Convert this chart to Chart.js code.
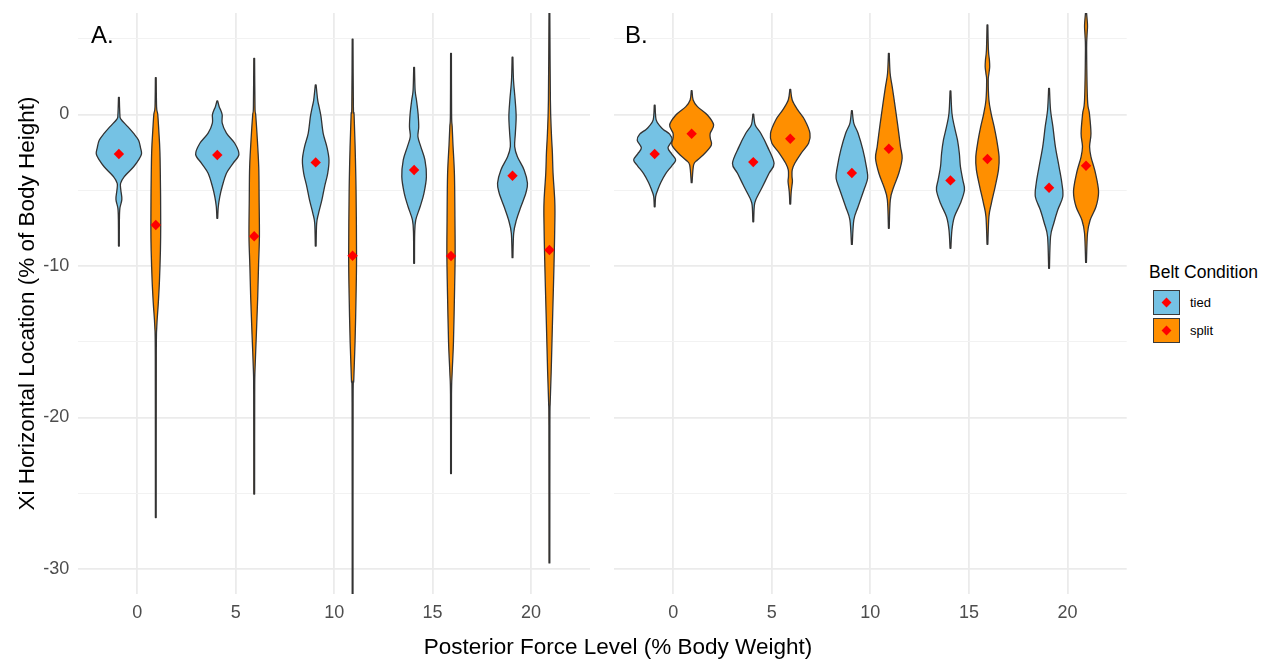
<!DOCTYPE html>
<html>
<head>
<meta charset="utf-8">
<title>Xi Horizontal Location by Posterior Force Level</title>
<script src="https://cdn.jsdelivr.net/npm/chart.js@4.4.1/dist/chart.umd.min.js"></script>
<style>
  html, body { margin: 0; padding: 0; background: #fff; }
  body { width: 1265px; height: 659px; position: relative; overflow: hidden;
         font-family: "Liberation Sans", Arial, Helvetica, sans-serif; }
  .wrap { position: absolute; top: 0; }
  #wrapA { left: 0; width: 600px; height: 659px; }
  #wrapB { left: 600px; width: 540px; height: 659px; }
  .tag { position: absolute; font-size: 24px; line-height: 24px; color: #000; white-space: nowrap; }
  #xTitle { position: absolute; left: 418px; width: 400px; top: 636px; text-align: center;
            font-size: 22.5px; line-height: 22.5px; color: #000; white-space: nowrap; }
  #legend { position: absolute; left: 1149px; top: 264px; }
  #legend .title { position: absolute; left: 0; top: 0; font-size: 17.5px; line-height: 17.5px; color: #000; white-space: nowrap; }
  #legend .key { position: absolute; left: 4px; width: 25px; height: 23px; border: 1.5px solid #3a3a3a; }
  #legend .dia { position: absolute; width: 7px; height: 7px; background: #ff0000; transform: rotate(45deg); }
  #legend .lab { position: absolute; left: 41px; font-size: 13px; line-height: 13px; color: #000; white-space: nowrap; }
</style>
</head>
<body>
<div class="wrap" id="wrapA"><canvas id="chartA" width="600" height="659"></canvas></div>
<div class="wrap" id="wrapB"><canvas id="chartB" width="540" height="659"></canvas></div>
<div class="tag" style="left:91px; top:23px;">A.</div>
<div class="tag" style="left:625px; top:23px;">B.</div>
<div id="xTitle">Posterior Force Level (% Body Weight)</div>
<div id="legend">
  <div class="title">Belt Condition</div>
  <div class="key" style="top:26px; background:#75c2e4;"></div>
  <div class="dia" style="left:14px; top:35px;"></div>
  <div class="lab" style="top:32px;">tied</div>
  <div class="key" style="top:54px; background:#ff8f00;"></div>
  <div class="dia" style="left:14px; top:63px;"></div>
  <div class="lab" style="top:60px;">split</div>
</div>

<script>
// ---- data ---------------------------------------------------------------
const forceLevels = ['0', '5', '10', '15', '20'];
const conditions = ['tied', 'split'];
const yTickValues = [-30, -25, -20, -15, -10, -5, 0, 5];

// group means (red diamonds)
const meanA_tied  = [-2.61, -2.67, -3.16, -3.66, -4.04];
const meanA_split = [-7.29, -8.04, -9.32, -9.34, -8.94];
const meanB_tied  = [-2.61, -3.14, -3.86, -4.35, -4.83];
const meanB_split = [-1.27, -1.60, -2.26, -2.94, -3.38];

// violin density profiles: [value, half width in x units], top to bottom
const violinA_tied = [
  [[1.13,0.004],[0.0,0.01],[-0.3,0.02],[-0.8,0.09],[-1.25,0.15],[-1.7,0.2],[-2.2,0.22],[-2.6,0.23],[-3.0,0.2],[-3.45,0.15],[-4.1,0.055],[-4.55,0.017],[-5.0,0.02],[-5.6,0.03],[-6.2,0.01],[-7.0,0.005],[-8.68,0.004]],
  [[0.89,0.004],[0.5,0.02],[0.3,0.034],[-0.03,0.05],[-0.57,0.05],[-1.23,0.093],[-1.9,0.177],[-2.63,0.22],[-3.22,0.16],[-3.88,0.093],[-4.77,0.049],[-5.43,0.025],[-6.09,0.01],[-6.85,0.004]],
  [[1.95,0.004],[0.96,0.02],[0.52,0.034],[-0.14,0.054],[-1.24,0.076],[-2.12,0.113],[-3.0,0.135],[-3.88,0.122],[-4.77,0.09],[-5.64,0.063],[-6.52,0.029],[-7.18,0.01],[-8.68,0.004]],
  [[3.11,0.004],[1.62,0.01],[0.96,0.024],[0.08,0.04],[-0.8,0.047],[-1.47,0.039],[-2.12,0.068],[-3.0,0.11],[-4.1,0.125],[-5.2,0.1],[-6.09,0.061],[-6.96,0.017],[-7.84,0.006],[-9.82,0.004]],
  [[3.78,0.004],[2.28,0.01],[0.96,0.027],[-0.14,0.037],[-1.24,0.029],[-2.12,0.022],[-2.79,0.05],[-3.66,0.118],[-4.54,0.152],[-5.2,0.135],[-6.09,0.085],[-6.96,0.04],[-7.84,0.012],[-9.45,0.004]]
];
const violinA_split = [
  [[2.43,0.004],[0.5,0.008],[0,0.02],[-1,0.03],[-2.5,0.042],[-5,0.048],[-7.3,0.05],[-9,0.047],[-11,0.037],[-12.5,0.025],[-14,0.01],[-16,0.005],[-26.6,0.004]],
  [[3.71,0.004],[0.5,0.008],[0,0.015],[-1.24,0.028],[-3.44,0.046],[-5.64,0.05],[-8.04,0.053],[-10,0.044],[-12.2,0.035],[-14.5,0.022],[-16.9,0.008],[-18.5,0.005],[-25.05,0.004]],
  [[4.98,0.004],[0.5,0.008],[0,0.015],[-2,0.025],[-5,0.035],[-9.3,0.04],[-12,0.035],[-15,0.025],[-17.5,0.012],[-19,0.005],[-32,0.004]],
  [[4.04,0.004],[0,0.006],[-0.8,0.012],[-2,0.02],[-4,0.035],[-7,0.04],[-9.3,0.042],[-12,0.035],[-15,0.025],[-17,0.012],[-18.5,0.005],[-23.7,0.004]],
  [[6.8,0.004],[0.96,0.01],[-1.24,0.02],[-2.5,0.03],[-3.88,0.037],[-5.64,0.054],[-6.75,0.056],[-8.94,0.05],[-11.1,0.042],[-14,0.03],[-17,0.018],[-19,0.008],[-20.5,0.005],[-29.6,0.004]]
];
const violinB_tied = [
  [[0.61,0.004],[-0.36,0.015],[-0.8,0.059],[-1.0,0.09],[-1.3,0.152],[-1.7,0.177],[-2.2,0.135],[-2.6,0.172],[-3.0,0.213],[-3.4,0.172],[-3.9,0.112],[-4.5,0.061],[-5.0,0.03],[-5.4,0.01],[-6.09,0.004]],
  [[0.03,0.004],[-0.69,0.02],[-1.24,0.076],[-2.12,0.144],[-3.22,0.211],[-3.88,0.16],[-4.77,0.093],[-5.64,0.025],[-6.09,0.01],[-7.08,0.004]],
  [[0.25,0.004],[-0.58,0.02],[-1.24,0.063],[-2.34,0.112],[-3.44,0.147],[-4.21,0.16],[-4.98,0.122],[-6.09,0.063],[-6.96,0.02],[-8.57,0.004]],
  [[1.55,0.004],[0.08,0.015],[-0.8,0.04],[-1.68,0.071],[-2.56,0.09],[-3.44,0.101],[-4.32,0.125],[-4.98,0.142],[-5.86,0.101],[-6.75,0.04],[-7.62,0.015],[-8.83,0.004]],
  [[1.73,0.004],[0.3,0.015],[-0.8,0.039],[-2.12,0.064],[-3.44,0.101],[-4.54,0.13],[-5.43,0.139],[-6.3,0.088],[-7.18,0.048],[-8.07,0.015],[-10.15,0.004]]
];
const violinB_split = [
  [[1.57,0.004],[0.96,0.015],[0.52,0.059],[-0.03,0.16],[-0.69,0.223],[-1.24,0.188],[-1.6,0.19],[-2.01,0.2],[-2.56,0.134],[-3.0,0.059],[-3.33,0.02],[-4.5,0.004]],
  [[1.66,0.004],[0.96,0.02],[0.3,0.076],[-0.36,0.147],[-1.24,0.2],[-1.9,0.186],[-2.56,0.11],[-3.22,0.046],[-3.66,0.02],[-4.1,0.018],[-4.43,0.022],[-5.1,0.01],[-5.91,0.004]],
  [[4.04,0.004],[2.72,0.013],[1.84,0.034],[0.74,0.059],[-0.14,0.078],[-1.24,0.101],[-2.12,0.118],[-2.89,0.135],[-3.88,0.101],[-4.77,0.05],[-5.64,0.015],[-7.51,0.004]],
  [[5.91,0.004],[4.26,0.01],[3.6,0.02],[3.16,0.023],[2.7,0.015],[2.28,0.008],[0.96,0.015],[0.08,0.037],[-0.8,0.068],[-1.68,0.094],[-2.79,0.118],[-3.66,0.112],[-4.77,0.078],[-5.86,0.04],[-6.75,0.015],[-8.57,0.004]],
  [[6.8,0.004],[6.2,0.012],[5.8,0.015],[5.2,0.01],[4.26,0.006],[0.96,0.015],[0.08,0.034],[-1.24,0.05],[-2.12,0.036],[-2.79,0.05],[-3.88,0.096],[-5.1,0.127],[-6.09,0.101],[-6.96,0.042],[-7.84,0.015],[-9.76,0.004]]
];

// ---- styling ------------------------------------------------------------
const FILL = { tied: '#75c2e4', split: '#ff8f00' };
const OUTLINE = '#333333';
const DODGE = 0.1875;          // half the dodge distance between tied / split
const Y_MIN = -31.65, Y_MAX = 6.7;

Chart.defaults.font.family = '"Liberation Sans", Arial, Helvetica, sans-serif';

// Catmull-Rom smoothing through pixel points
function smoothTo(ctx, pts) {
  for (let i = 0; i < pts.length - 1; i++) {
    const p0 = pts[i - 1] || pts[i], p1 = pts[i], p2 = pts[i + 1], p3 = pts[i + 2] || pts[i + 1];
    const t = 1 / 6;
    ctx.bezierCurveTo(p1.x + (p2.x - p0.x) * t, p1.y + (p2.y - p0.y) * t,
                      p2.x - (p3.x - p1.x) * t, p2.y - (p3.y - p1.y) * t, p2.x, p2.y);
  }
}

// draws the violins of one panel through the chart's scales
const violinPlugin = {
  id: 'violins',
  beforeDatasetsDraw(chart, args, opts) {
    const { ctx, chartArea, scales: { x, y } } = chart;
    ctx.save();
    ctx.beginPath();
    ctx.rect(chartArea.left, chartArea.top, chartArea.right - chartArea.left, chartArea.bottom - chartArea.top);
    ctx.clip();
    opts.groups.forEach(g => {
      g.profiles.forEach((prof, i) => {
        const cx = i + g.offset;
        const right = prof.map(([v, w]) => ({ x: x.getPixelForValue(cx + w), y: y.getPixelForValue(v) }));
        const left = prof.slice().reverse().map(([v, w]) => ({ x: x.getPixelForValue(cx - w), y: y.getPixelForValue(v) }));
        ctx.beginPath();
        ctx.moveTo(right[0].x, right[0].y);
        smoothTo(ctx, right);
        ctx.lineTo(left[0].x, left[0].y);
        smoothTo(ctx, left);
        ctx.closePath();
        ctx.fillStyle = g.fill;
        ctx.fill();
        ctx.lineWidth = 1.3;
        ctx.strokeStyle = OUTLINE;
        ctx.lineJoin = 'round';
        ctx.stroke();
      });
    });
    ctx.restore();
  }
};

function meanPoints(means, offset) {
  return means.map((m, i) => ({ x: i + offset, y: m }));
}

function buildPanel(canvasId, tied, split, meansTied, meansSplit, isFirst) {
  const ctx = document.getElementById(canvasId).getContext('2d');
  return new Chart(ctx, {
    type: 'scatter',
    data: {
      datasets: [
        { label: conditions[0], data: meanPoints(meansTied, -DODGE) },
        { label: conditions[1], data: meanPoints(meansSplit, DODGE) }
      ]
    },
    options: {
      responsive: false,
      animation: false,
      events: [],
      layout: { padding: isFirst ? { top: 13, right: 10, bottom: 0, left: 0 }
                                 : { top: 13, right: 13.3, bottom: 0, left: 0 } },
      elements: {
        point: { pointStyle: 'rectRot', radius: 5.2, backgroundColor: '#ff0000', borderWidth: 0 }
      },
      plugins: {
        legend: { display: false },
        tooltip: { enabled: false },
        violins: {
          groups: [
            { profiles: tied, offset: -DODGE, fill: FILL.tied },
            { profiles: split, offset: DODGE, fill: FILL.split }
          ]
        }
      },
      scales: {
        x: {
          type: 'linear',
          min: -0.6, max: 4.6,
          afterBuildTicks: s => { s.ticks = forceLevels.map((_, i) => ({ value: i })); },
          afterFit: s => { s.height = 65; s.paddingLeft = 0; s.paddingRight = 0; },
          ticks: {
            callback: v => forceLevels[v],
            color: '#4d4d4d',
            font: { size: 18 },
            padding: 8,
            maxRotation: 0
          },
          grid: { color: '#ebebeb', lineWidth: 1.8, drawTicks: false },
          border: { display: false }
        },
        y: {
          type: 'linear',
          min: Y_MIN, max: Y_MAX,
          afterBuildTicks: s => { s.ticks = yTickValues.map(v => ({ value: v })); },
          afterFit: s => { s.width = isFirst ? 78.3 : 14; s.paddingTop = 0; s.paddingBottom = 0; },
          ticks: {
            display: isFirst,
            callback: v => (v % 10 === 0 ? String(v) : ''),
            color: '#4d4d4d',
            font: { size: 18 },
            padding: 9
          },
          grid: {
            color: c => (c.tick && c.tick.value % 10 === 0 ? '#ebebeb' : '#f2f2f2'),
            lineWidth: c => (c.tick && c.tick.value % 10 === 0 ? 1.8 : 1),
            drawTicks: false
          },
          border: { display: false },
          title: {
            display: isFirst,
            text: 'Xi Horizontal Location (% of Body Height)',
            color: '#000',
            font: { size: 22.5 },
            padding: { top: 14, bottom: 0 }
          }
        }
      }
    },
    plugins: [violinPlugin]
  });
}

buildPanel('chartA', violinA_tied, violinA_split, meanA_tied, meanA_split, true);
buildPanel('chartB', violinB_tied, violinB_split, meanB_tied, meanB_split, false);
</script>
</body>
</html>
